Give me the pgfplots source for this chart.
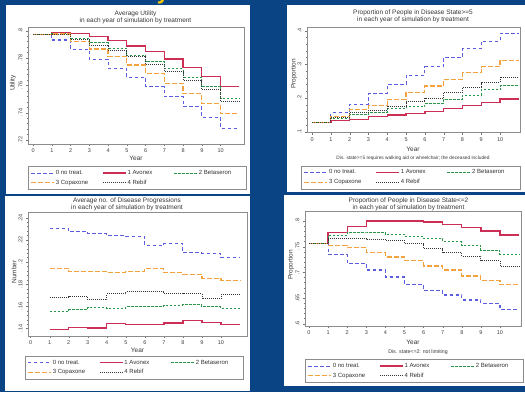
\documentclass[border=0pt]{standalone}
\usepackage{fontspec}
\setmainfont{Liberation Sans}
\usepackage{pgfplots}
\pgfplotsset{compat=1.18}
\definecolor{bgblue}{RGB}{10,68,132}
\definecolor{blueC}{RGB}{92,92,222}
\definecolor{redC}{RGB}{204,46,86}
\definecolor{greenC}{RGB}{42,150,72}
\definecolor{orangeC}{RGB}{244,162,62}
\definecolor{rebifC}{RGB}{55,55,55}
\definecolor{yellowC}{RGB}{250,200,0}
\pgfplotsset{
  stata/.style={
    scale only axis,
    axis line style={draw=black!45, line width=0.4pt},
    every tick/.style={draw=black!55, line width=0.35pt},
    tick align=outside,
    major tick length=2pt,
    minor tick length=1.2pt,
    xtick={0,1,...,10},
    xticklabels={0,1,2,3,4,5,6,7,8,9,10},
    xtick pos=lower, ytick pos=left,
    minor y tick num=4,
    ticklabel style={font=\fontsize{5.5}{6}\selectfont, text=black!75},
    xticklabel style={yshift=0.5pt},
    yticklabel style={rotate=90, anchor=south},
    clip=true,
    legend columns=3,
    legend cell align=left,
    legend style={draw=black!45, fill=white, font=\fontsize{6}{6.5}\selectfont,
      text=black!80, inner sep=2.5pt, row sep=1.5pt,
      nodes={inner sep=1.2pt},
      /tikz/every even column/.append style={column sep=1pt}},
    legend image code/.code={\draw[##1] (0pt,0pt) -- (23pt,0pt);},
    const plot,
  },
  sNo/.style={color=blueC, dash pattern=on 3.5pt off 2.5pt, line width=1.1pt},
  sAv/.style={color=redC, solid, line width=1.3pt},
  sBe/.style={color=greenC, dash pattern=on 2.5pt off 1.5pt, line width=1pt},
  sCo/.style={color=orangeC, dash pattern=on 5pt off 2pt, line width=1.2pt},
  sRe/.style={color=rebifC, dash pattern=on 1pt off 1pt, line width=0.8pt},
}
\newcommand{\lgb}[1]{\makebox[44pt][l]{#1}}
\begin{document}
\begin{tikzpicture}[x=1pt,y=1pt]
\useasboundingbox (0,0) rectangle (525,392);
\fill[bgblue] (0,0) rectangle (525,392);
\begin{scope}
\clip (0,0) rectangle (525,392);
\node[font=\fontsize{22}{22}\selectfont\bfseries, text=yellowC, anchor=base, inner sep=0pt] at (163,392.5) {y};
\end{scope}
% white panels
\fill[white] (6,198) rectangle (250,387);
\fill[white] (287,200) rectangle (525,387);
\fill[white] (5,1) rectangle (250,196);
\fill[white] (284,6) rectangle (525,197);

% ---------------- Panel 1: Average Utility  (L28 R244 T27 B144)
\begin{axis}[stata, at={(28pt,248pt)}, anchor=south west, width=216pt, height=117pt,
  xmin=-0.27, xmax=11.25, ymin=0.7171, ymax=0.8027,
  ytick={0.72,0.74,0.76,0.78,0.8}, yticklabels={.72,.74,.76,.78,.8},
  legend style={at={(0.506,-0.191)}, anchor=north}]
\addplot[sNo] coordinates {(0,0.797) (1,0.7932) (2,0.7864) (3,0.7791) (4,0.7725) (5,0.7659) (6,0.7591) (7,0.7518) (8,0.7445) (9,0.7367) (10,0.7287) (11,0.7287)};
\addplot[sAv] coordinates {(0,0.797) (1,0.7988) (2,0.7981) (3,0.7956) (4,0.7927) (5,0.7888) (6,0.7847) (7,0.7793) (8,0.7732) (9,0.7664) (10,0.7594) (11,0.7594)};
\addplot[sBe] coordinates {(0,0.797) (1,0.7981) (2,0.7944) (3,0.7912) (4,0.7871) (5,0.7822) (6,0.7774) (7,0.7720) (8,0.7659) (9,0.7591) (10,0.7506) (11,0.7506)};
\addplot[sCo] coordinates {(0,0.797) (1,0.7976) (2,0.7920) (3,0.7866) (4,0.7810) (5,0.7749) (6,0.7689) (7,0.7616) (8,0.7538) (9,0.7465) (10,0.7392) (11,0.7392)};
\addplot[sRe] coordinates {(0,0.797) (1,0.7976) (2,0.7937) (3,0.7895) (4,0.7854) (5,0.7810) (6,0.7757) (7,0.7701) (8,0.7635) (9,0.7567) (10,0.7482) (11,0.7482)};
\legend{\lgb{0 no treat.},\lgb{1 Avonex},\lgb{2 Betaseron},\lgb{3 Copaxone},\lgb{4 Rebif}}
\end{axis}

% ---------------- Panel 2: Proportion state >=5  (L307 R520 T27 B132.5)
\begin{axis}[stata, at={(307pt,259.5pt)}, anchor=south west, width=213pt, height=105.5pt,
  xmin=-0.27, xmax=11.06, ymin=0.0976, ymax=0.411,
  ytick={0.1,0.2,0.3,0.4}, yticklabels={.1,.2,.3,.4},
  legend style={at={(0.486,-0.315)}, anchor=north}]
\addplot[sNo] coordinates {(0,0.128) (1,0.156) (2,0.182) (3,0.214) (4,0.241) (5,0.268) (6,0.293) (7,0.321) (8,0.346) (9,0.369) (10,0.392) (11,0.392)};
\addplot[sAv] coordinates {(0,0.128) (1,0.133) (2,0.137) (3,0.145) (4,0.150) (5,0.154) (6,0.161) (7,0.169) (8,0.177) (9,0.187) (10,0.197) (11,0.197)};
\addplot[sBe] coordinates {(0,0.128) (1,0.138) (2,0.151) (3,0.157) (4,0.168) (5,0.174) (6,0.184) (7,0.196) (8,0.209) (9,0.224) (10,0.237) (11,0.237)};
\addplot[sCo] coordinates {(0,0.128) (1,0.145) (2,0.166) (3,0.179) (4,0.196) (5,0.216) (6,0.236) (7,0.255) (8,0.275) (9,0.293) (10,0.311) (11,0.311)};
\addplot[sRe] coordinates {(0,0.128) (1,0.142) (2,0.157) (3,0.164) (4,0.176) (5,0.189) (6,0.199) (7,0.216) (8,0.232) (9,0.246) (10,0.261) (11,0.261)};
\legend{\lgb{0 no treat.},\lgb{1 Avonex},\lgb{2 Betaseron},\lgb{3 Copaxone},\lgb{4 Rebif}}
\end{axis}

% ---------------- Panel 3: Average no. of disease progressions (L28 R247 T212 B336)
\begin{axis}[stata, at={(28pt,56pt)}, anchor=south west, width=219pt, height=124pt,
  xmin=-0.14, xmax=11.37, ymin=0.1333, ymax=0.2452,
  ytick={0.14,0.16,0.18,0.2,0.22,0.24}, yticklabels={.14,.16,.18,.2,.22,.24},
  legend style={at={(0.485,-0.161)}, anchor=north}]
\addplot[sNo] coordinates {(1,0.2304) (2,0.2275) (3,0.2254) (4,0.2237) (5,0.2232) (6,0.2149) (7,0.2167) (8,0.2085) (9,0.2079) (10,0.2041) (11,0.2041)};
\addplot[sAv] coordinates {(1,0.1391) (2,0.1409) (3,0.1406) (4,0.1444) (5,0.1435) (6,0.1438) (7,0.1450) (8,0.1473) (9,0.1458) (10,0.1438) (11,0.1438)};
\addplot[sBe] coordinates {(1,0.1555) (2,0.1569) (3,0.1590) (4,0.1581) (5,0.1595) (6,0.1595) (7,0.1610) (8,0.1613) (9,0.1595) (10,0.1581) (11,0.1581)};
\addplot[sCo] coordinates {(1,0.1945) (2,0.1916) (3,0.1916) (4,0.1904) (5,0.1916) (6,0.1939) (7,0.1904) (8,0.1887) (9,0.1852) (10,0.1834) (11,0.1834)};
\addplot[sRe] coordinates {(1,0.1677) (2,0.1692) (3,0.1662) (4,0.1715) (5,0.1735) (6,0.1735) (7,0.1715) (8,0.1715) (9,0.1668) (10,0.1706) (11,0.1706)};
\legend{\lgb{0 no treat.},\lgb{1 Avonex},\lgb{2 Betaseron},\lgb{3 Copaxone},\lgb{4 Rebif}}
\end{axis}

% ---------------- Panel 4: Proportion state <=2 (L305 R521 T211 B326)
\begin{axis}[stata, at={(305pt,66pt)}, anchor=south west, width=216pt, height=115pt,
  xmin=-0.21, xmax=11.1, ymin=0.5955, ymax=0.8195,
  ytick={0.6,0.65,0.7,0.75,0.8}, yticklabels={.6,.65,.7,.75,.8},
  legend style={at={(0.506,-0.29)}, anchor=north}]
\addplot[sNo] coordinates {(0,0.7558) (1,0.735) (2,0.7169) (3,0.7045) (4,0.6909) (5,0.6766) (6,0.6649) (7,0.6558) (8,0.6461) (9,0.639) (10,0.6279) (11,0.6279)};
\addplot[sAv] coordinates {(0,0.7558) (1,0.7773) (2,0.789) (3,0.8) (4,0.8) (5,0.8) (6,0.798) (7,0.7935) (8,0.787) (9,0.7805) (10,0.7727) (11,0.7727)};
\addplot[sBe] coordinates {(0,0.7558) (1,0.772) (2,0.7786) (3,0.7786) (4,0.774) (5,0.7695) (6,0.7656) (7,0.7597) (8,0.7526) (9,0.7435) (10,0.735) (11,0.735)};
\addplot[sCo] coordinates {(0,0.7558) (1,0.7526) (2,0.748) (3,0.7383) (4,0.7299) (5,0.7234) (6,0.7123) (7,0.7045) (8,0.6929) (9,0.6844) (10,0.6766) (11,0.6766)};
\addplot[sRe] coordinates {(0,0.7558) (1,0.7656) (2,0.7656) (3,0.7643) (4,0.7623) (5,0.7558) (6,0.7461) (7,0.7383) (8,0.7318) (9,0.7234) (10,0.7123) (11,0.7123)};
\legend{\lgb{0 no treat.},\lgb{1 Avonex},\lgb{2 Betaseron},\lgb{3 Copaxone},\lgb{4 Rebif}}
\end{axis}

% ---------------- texts
\begin{scope}[every node/.style={text=black!78, inner sep=0pt}]
\node[align=center, font=\fontsize{6.5}{7.2}\selectfont] at (135.5,374.5) {Average Utility\\in each year of simulation by treatment};
\node[align=center, font=\fontsize{6.5}{7.2}\selectfont] at (413,375.5) {Proportion of People in Disease State>=5\\in each year of simulation by treatment};
\node[align=center, font=\fontsize{6.5}{7.2}\selectfont] at (127,187.5) {Average no. of Disease Progressions\\in each year of simulation by treatment};
\node[align=center, font=\fontsize{6.5}{7.2}\selectfont] at (408.5,188) {Proportion of People in Disease State<=2\\in each year of simulation by treatment};
\node[rotate=90, font=\fontsize{6.5}{7}\selectfont] at (13,309) {Utility};
\node[rotate=90, font=\fontsize{6.5}{7}\selectfont] at (294,318) {Proportion};
\node[rotate=90, font=\fontsize{6.5}{7}\selectfont] at (14,120) {Number};
\node[rotate=90, font=\fontsize{6.5}{7}\selectfont] at (291,127) {Proportion};
\node[font=\fontsize{6.5}{7}\selectfont] at (136,234) {Year};
\node[font=\fontsize{6.5}{7}\selectfont] at (413,242.5) {Year};
\node[font=\fontsize{6.5}{7}\selectfont] at (137.5,41.5) {Year};
\node[font=\fontsize{6.5}{7}\selectfont] at (413,49.3) {Year};
\node[font=\fontsize{4.8}{5}\selectfont] at (413,233.7) {Dis. state>=5 requires walking aid or wheelchair; the deceased included};
\node[font=\fontsize{5.2}{5.5}\selectfont] at (418,40.3) {Dis. state<=2: not limiting};
\end{scope}
\end{tikzpicture}
\end{document}
